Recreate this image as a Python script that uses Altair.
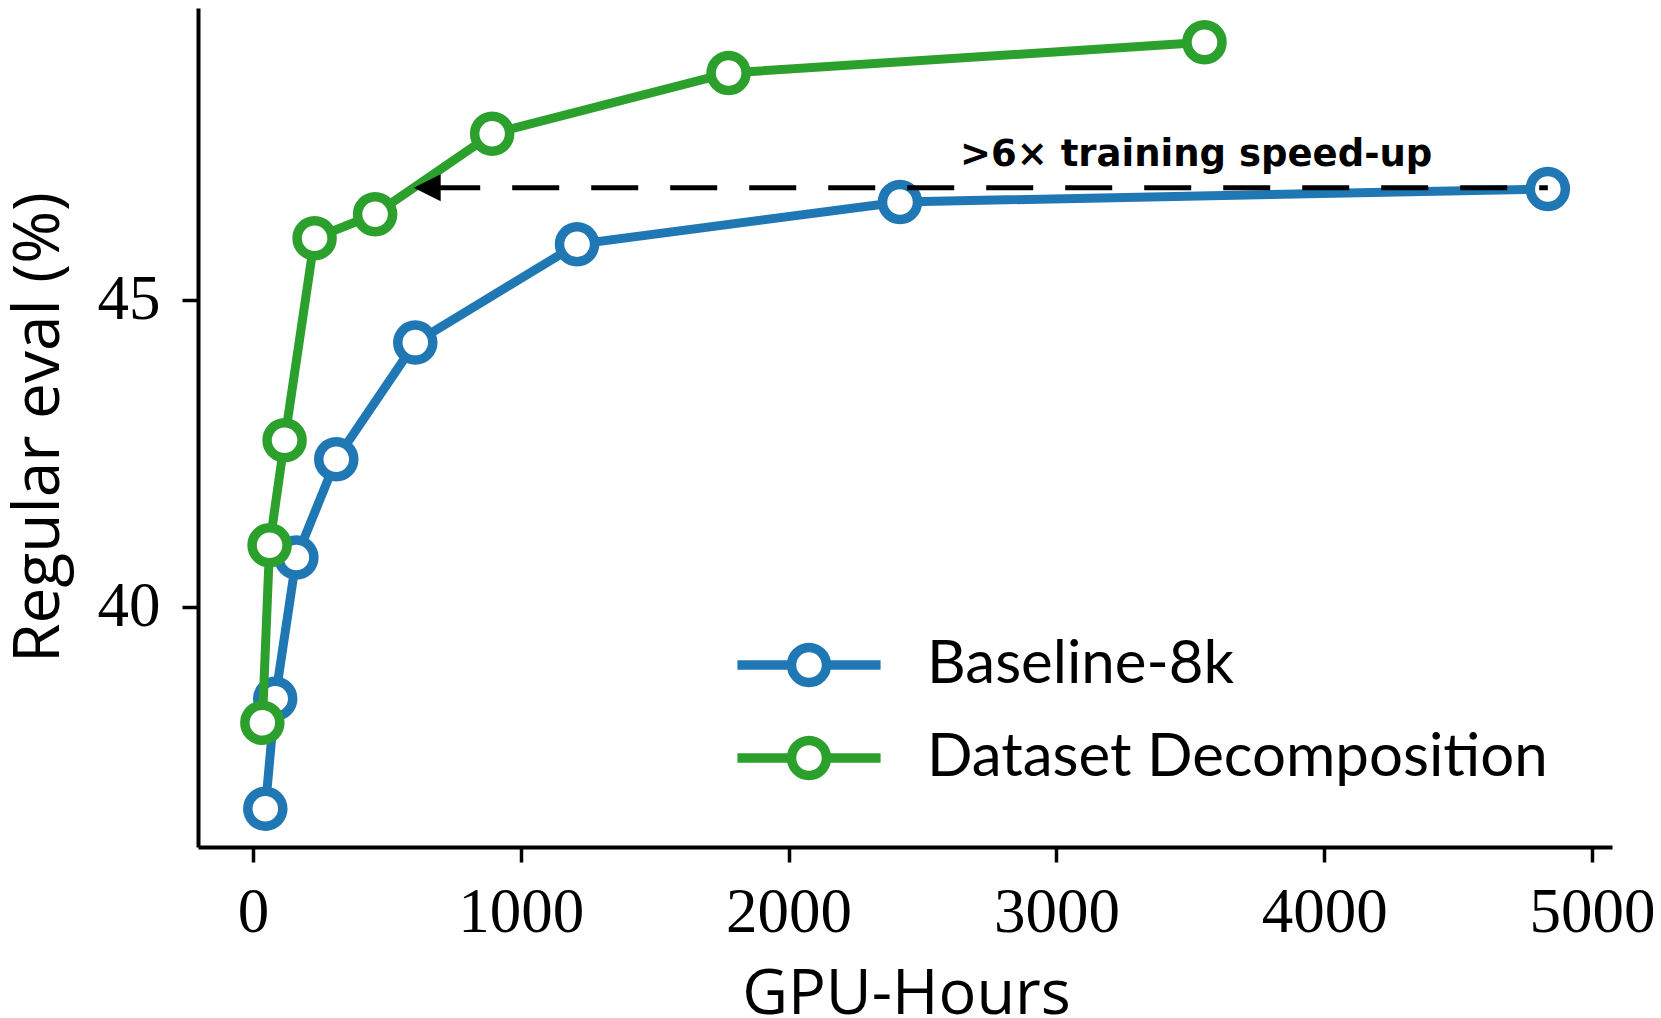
import altair as alt
import pandas as pd

# ---- data ----
series_names = ["Baseline-8k", "Dataset Decomposition"]
series_colors = ["#1f77b4", "#2ca02c"]

gpu_baseline = [46, 83, 162, 311, 606, 1210, 2416, 4835]
eval_baseline = [36.71, 38.50, 40.80, 42.40, 44.30, 45.90, 46.59, 46.80]

gpu_dd = [35, 62, 118, 230, 456, 893, 1776, 3553]
eval_dd = [38.11, 41.00, 42.71, 46.00, 46.39, 47.70, 48.69, 49.19]

x_ticks = [0, 1000, 2000, 3000, 4000, 5000]
y_ticks = [40, 45]
x_domain = [-205.3, 5074.6]
y_domain = [36.088, 49.748]

arrow_start = [4835]      # GPU-hours where dashed arrow starts (right)
arrow_dash_end = [673]    # where the dashed shaft ends (under the head)
arrow_tip = [600]         # arrow tip
arrow_level = [46.82]     # eval level of the arrow
annot_text = [">6\u00d7 training speed-up"]
annot_x = [3522]
annot_y = [47.18]

# ---- tables ----
df = pd.concat([
    pd.DataFrame({"gpu": gpu_baseline, "score": eval_baseline, "series": series_names[0]}),
    pd.DataFrame({"gpu": gpu_dd, "score": eval_dd, "series": series_names[1]}),
])
rule_df = pd.DataFrame({"gpu": arrow_dash_end, "gpu2": arrow_start, "score": arrow_level})
head_df = pd.DataFrame({"gpu": arrow_tip, "score": arrow_level})
text_df = pd.DataFrame({"gpu": annot_x, "score": annot_y, "label": annot_text})

xscale = alt.Scale(domain=x_domain, nice=False, zero=False)
yscale = alt.Scale(domain=y_domain, nice=False, zero=False)
cscale = alt.Scale(domain=series_names, range=series_colors)

xaxis = alt.Axis(values=x_ticks, format="d", grid=False, labelFont="Liberation Serif",
                 labelFontSize=63, labelColor="black", labelPadding=19, labelFlush=False,
                 labelOverlap=False, tickSize=15, tickWidth=3.5, tickColor="black",
                 domainWidth=4, domainColor="black", title="GPU-Hours", titleFont="Open Sans",
                 titleFontSize=63, titleFontWeight="normal", titleColor="black",
                 titleBaseline="alphabetic", titleAlign="center", titleX=708, titleY=166)
yaxis = alt.Axis(values=y_ticks, format="d", grid=False, labelFont="Liberation Serif",
                 labelFontSize=63, labelColor="black", labelPadding=22,
                 labelOverlap=False, tickSize=16, tickWidth=3.5, tickColor="black",
                 domainWidth=4, domainColor="black", title="Regular eval (%)", titleFont="Open Sans",
                 titleFontSize=64, titleFontWeight="normal", titleColor="black",
                 titleAngle=270, titleBaseline="alphabetic", titleAlign="center",
                 titleX=-140, titleY=419)

legend_symbol = "M-4.09,0L-1,0M1,0L4.09,0M1,0A1,1 0 1 1 -1,0A1,1 0 1 1 1,0Z"
leg = alt.Legend(title=None, orient="none", legendX=581, legendY=627, padding=0,
                 symbolType=legend_symbol, symbolSize=1225, symbolStrokeWidth=9.5,
                 symbolFillColor="white", symbolOpacity=1, labelFont="Lato",
                 labelFontSize=60, labelColor="black", labelOffset=88, labelLimit=2000,
                 rowPadding=19)

X = alt.X("gpu:Q", scale=xscale, axis=xaxis)
Y = alt.Y("score:Q", scale=yscale, axis=yaxis)
C = alt.Color("series:N", scale=cscale, legend=leg)

layers = []
for name in series_names:
    base = alt.Chart(df).transform_filter(alt.datum.series == name)
    layers.append(base.mark_line(strokeWidth=9, strokeCap="butt").encode(x=X, y=Y, color=C))
    layers.append(base.mark_point(shape="circle", filled=False, fill="white", fillOpacity=1,
                                  strokeWidth=9.5, size=1225, opacity=1).encode(x=X, y=Y, color=C))

rule = alt.Chart(rule_df).mark_rule(color="black", strokeWidth=5, strokeDash=[47, 32]).encode(
    x=X, x2="gpu2:Q", y=Y)
head = alt.Chart(head_df).mark_point(shape="M-1,0L1,-1L1,1Z", filled=True, color="black",
                                     size=729, opacity=1, xOffset=13.5).encode(x=X, y=Y)
text = alt.Chart(text_df).mark_text(font="DejaVu Sans", fontWeight="bold", fontSize=37,
                                    align="center", baseline="alphabetic", color="black").encode(
    x=X, y=Y, text="label:N")

chart = alt.layer(*layers, rule, head, text).properties(
    width=1414, height=839,
    autosize=alt.AutoSizeParams(type="none"),
    padding={"left": 190, "top": 0, "right": 41, "bottom": 170},
).configure_view(stroke=None)

chart.save("out.html", embed_options={"renderer": "svg", "actions": False})
